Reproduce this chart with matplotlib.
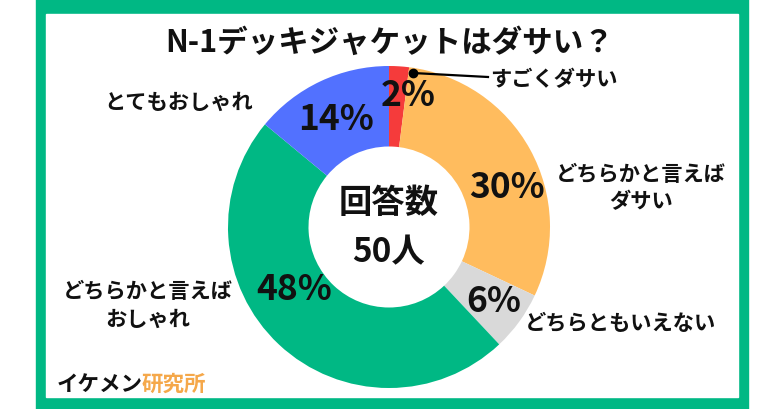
import matplotlib.pyplot as plt
from matplotlib.patches import Rectangle

plt.rcParams['font.family'] = ['Noto Sans CJK JP', 'DejaVu Sans']

# data
categories = ['すごくダサい', 'どちらかと言えば\nダサい', 'どちらともいえない',
              'どちらかと言えば\nおしゃれ', 'とてもおしゃれ']
shares = [2, 30, 6, 48, 14]
colors = ['#F53B3B', '#FFBC5E', '#D9D9D9', '#00B884', '#5271FF']
title = 'N-1デッキジャケットはダサい？'
center_text = ['回答数', '50人']

W, H = 780, 410
GREEN = '#00B884'


def px(x, y):
    # pixel position (top-left origin) -> figure fraction
    return x / W, 1 - y / H


fig = plt.figure(figsize=(7.8, 4.1), dpi=100)

# frame
fig.patches.append(Rectangle((36 / W, 0), (748 - 36) / W, 1,
                             transform=fig.transFigure, color=GREEN, zorder=-3))
fig.patches.append(Rectangle((46 / W, 1 - 398 / H), (738 - 46) / W, (398 - 15) / H,
                             transform=fig.transFigure, color='white', zorder=-2))

# donut
cx, cy = px(389, 228)
r = 161
ax = fig.add_axes([cx - r / W, cy - r / H, 2 * r / W, 2 * r / H])
ax.set_zorder(1)
ax.pie(shares, colors=colors, startangle=90, counterclock=False, radius=1,
       wedgeprops=dict(width=0.5, linewidth=0))
ax.set_xlim(-1, 1)
ax.set_ylim(-1, 1)
ax.set_aspect('equal')
ax.axis('off')

# percentage labels
pct_pos = [(408, 95), (507, 188), (494, 302), (294, 290), (336, 120)]
for v, (x, y) in zip(shares, pct_pos):
    fig.text(*px(x, y), f'{v}%', ha='center', va='center', zorder=5,
             fontsize=25.5, fontweight='bold', color='#111111')

# category labels
label_pos = [(551, 80), (641, 188), (620, 324), (148, 305), (179, 102)]
for name, (x, y) in zip(categories, label_pos):
    ha = 'center'
    if name == 'すごくダサい':
        ha = 'left'
        x = 490
    fig.text(*px(x, y), name, ha=ha, va='center', fontsize=15.3, zorder=5,
             fontweight='bold', color='#111111', linespacing=1.4)

# leader line for the small slice
fig.add_artist(plt.Line2D([413 / W, 488 / W], [1 - 74 / H, 1 - 78 / H],
                          transform=fig.transFigure, color='black', lw=1.6, zorder=6))
fig.add_artist(plt.Line2D([413 / W], [1 - 74 / H], transform=fig.transFigure,
                          marker='o', markersize=6, color='black', zorder=6))

# center text
fig.text(*px(389, 203), center_text[0], ha='center', va='center', zorder=5,
         fontsize=24, fontweight='bold', color='#111111')
fig.text(*px(389, 253), center_text[1], ha='center', va='center', zorder=5,
         fontsize=24, fontweight='bold', color='#111111')

# title
fig.text(*px(390, 43), title, ha='center', va='center',
         fontsize=22, fontweight='bold', color='#111111')

# brand
fig.text(*px(57, 384), 'イケメン', ha='left', va='center',
         fontsize=15.5, fontweight='bold', color='#111111')
fig.text(*px(142, 384), '研究所', ha='left', va='center',
         fontsize=15.5, fontweight='bold', color='#F5A84A')

fig.savefig('out.png', dpi=100)
